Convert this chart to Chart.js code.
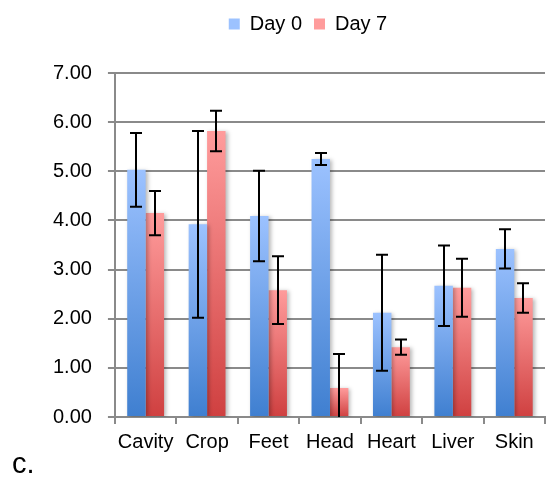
<!DOCTYPE html>
<html>
<head>
<meta charset="utf-8">
<script src="https://cdn.jsdelivr.net/npm/chart.js@4/dist/chart.umd.min.js"></script>
<style>
  html, body { margin: 0; padding: 0; background: #fff; }
  #wrap { position: relative; width: 546px; height: 477px; }
  #panel { position: absolute; left: 12px; top: 448px; font: 29px "Liberation Sans", Arial, sans-serif; color: #000; line-height: 30px; }
</style>
</head>
<body>
<div id="wrap">
  <canvas id="grafica" width="546" height="477"></canvas>
  <div id="panel">c.</div>
</div>
<script>
const etiquetas = ['Cavity', 'Crop', 'Feet', 'Head', 'Heart', 'Liver', 'Skin'];
const dia0 = [5.03, 3.92, 4.09, 5.25, 2.12, 2.67, 3.42];
const dia0Error = [0.75, 1.90, 0.92, 0.12, 1.18, 0.82, 0.40];
const dia7 = [4.15, 5.82, 2.58, 0.59, 1.42, 2.63, 2.42];
const dia7Error = [0.45, 0.41, 0.69, 0.69, 0.155, 0.59, 0.30];
const yTicks = [0, 1, 2, 3, 4, 5, 6, 7];

const fuente = '"Liberation Sans", Arial, sans-serif';

// degradado claro arriba, oscuro abajo (por barra)
function degradado(claro, oscuro) {
    return (ctx) => {
        const chart = ctx.chart;
        const c = chart.ctx;
        let top = 17, bottom = 29; // caja de la leyenda
        if (ctx.type === 'data' && chart.scales.y) {
            const t = chart.scales.y.getPixelForValue(ctx.raw);
            const b = chart.scales.y.getPixelForValue(0);
            if (isFinite(t) && isFinite(b)) { top = t; bottom = b; }
        }
        const g = c.createLinearGradient(0, top, 0, bottom);
        g.addColorStop(0, claro);
        g.addColorStop(1, oscuro);
        return g;
    };
}

// leyenda: mas espacio debajo y un poco a la derecha
const ajusteLeyenda = {
    id: 'ajusteLeyenda',
    afterInit(chart) {
        const leyenda = chart.legend;
        const fit = leyenda.fit;
        leyenda.fit = function () {
            fit.call(this);
            this.height += 29;
        };
        const draw = leyenda.draw;
        leyenda.draw = function () {
            this.ctx.save();
            this.ctx.translate(17, 0);
            draw.call(this);
            this.ctx.restore();
        };
    }
};

// sombra suave de las barras
const sombra = {
    id: 'sombra',
    beforeDatasetsDraw(chart) {
        const c = chart.ctx;
        c.save();
        c.shadowColor = 'rgba(0,0,0,0.28)';
        c.shadowBlur = 4;
        c.shadowOffsetX = 2;
        c.shadowOffsetY = 1;
    },
    afterDatasetsDraw(chart) {
        chart.ctx.restore();
    }
};

// barras de error
const barrasError = {
    id: 'barrasError',
    afterDatasetsDraw(chart) {
        const c = chart.ctx;
        const y = chart.scales.y;
        const area = chart.chartArea;
        const errores = [dia0Error, dia7Error];
        c.save();
        c.beginPath();
        c.rect(area.left, area.top - 20, area.right - area.left, area.bottom - area.top + 20);
        c.clip();
        c.strokeStyle = '#000';
        c.lineWidth = 2;
        chart.data.datasets.forEach((ds, i) => {
            const meta = chart.getDatasetMeta(i);
            meta.data.forEach((bar, j) => {
                const v = ds.data[j];
                const e = errores[i][j];
                const x = Math.round(bar.x);
                const yHi = y.getPixelForValue(v + e);
                const yLo = y.getPixelForValue(v - e);
                c.beginPath();
                c.moveTo(x, yHi); c.lineTo(x, yLo);
                c.moveTo(x - 6, yHi); c.lineTo(x + 6, yHi);
                c.moveTo(x - 6, yLo); c.lineTo(x + 6, yLo);
                c.stroke();
            });
        });
        c.restore();
    }
};

new Chart(document.querySelector('#grafica'), {
    type: 'bar',
    data: {
        labels: etiquetas,
        datasets: [
            {
                label: 'Day 0',
                data: dia0,
                backgroundColor: degradado('#9cc2ff', '#3f7fd0'),
                borderWidth: 0,
                categoryPercentage: 0.6,
                barPercentage: 1.0
            },
            {
                label: 'Day 7',
                data: dia7,
                backgroundColor: degradado('#ff9c9c', '#cf4040'),
                borderWidth: 0,
                categoryPercentage: 0.6,
                barPercentage: 1.0
            }
        ]
    },
    options: {
        responsive: false,
        animation: false,
        devicePixelRatio: 1,
        layout: { padding: { left: 37, right: 1, top: 2, bottom: 17 } },
        plugins: {
            legend: {
                position: 'top',
                labels: {
                    boxWidth: 11,
                    boxHeight: 11,
                    padding: 12,
                    color: '#000',
                    font: { family: fuente, size: 20 }
                }
            },
            tooltip: { enabled: false }
        },
        scales: {
            x: {
                grid: {
                    drawOnChartArea: false,
                    drawTicks: true,
                    tickLength: 7,
                    color: '#8a8a8a',
                    lineWidth: 2
                },
                border: { color: '#8a8a8a', width: 2 },
                ticks: { color: '#000', padding: 6, font: { family: fuente, size: 20 }, maxRotation: 0 }
            },
            y: {
                min: 0,
                max: 7,
                afterBuildTicks: (axis) => { axis.ticks = yTicks.map(v => ({ value: v })); },
                grid: {
                    color: '#8a8a8a',
                    lineWidth: 2,
                    tickLength: 7
                },
                border: { color: '#8a8a8a', width: 2 },
                ticks: {
                    color: '#000',
                    padding: 16,
                    font: { family: fuente, size: 20 },
                    callback: (v) => Number(v).toFixed(2)
                }
            }
        }
    },
    plugins: [ajusteLeyenda, sombra, barrasError]
});
</script>
</body>
</html>
